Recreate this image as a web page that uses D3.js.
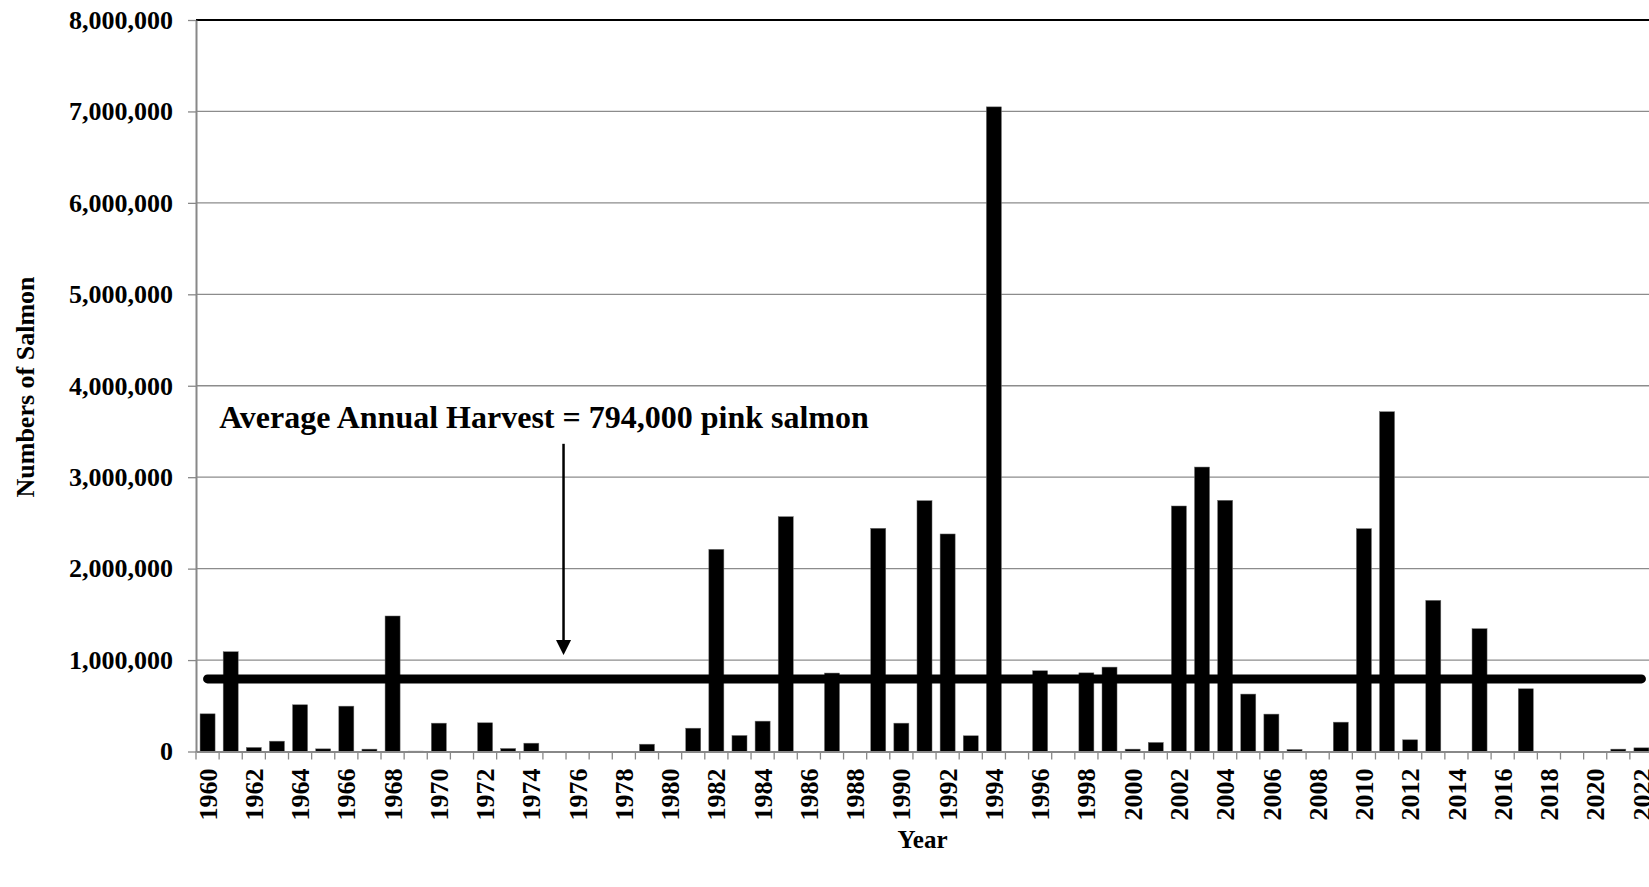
<!DOCTYPE html>
<html>
<head>
<meta charset="utf-8">
<script src="https://cdn.jsdelivr.net/npm/d3@7"></script>
<style>
	body { margin: 0; background: #fff; }
	text { font-family: "Liberation Serif", "Times New Roman", serif; font-weight: bold; fill: #000; }
</style>
</head>
<body>
<div id="plot"></div>
<script>
const margin = { top: 20, right: -4, bottom: 135.5, left: 196 },
	width = 1649 - margin.left - margin.right,
	height = 887 - margin.top - margin.bottom;

// harvest by year
const years = d3.range(1960, 2023).map(String);
const harvest = [
	412000, 1091000, 44000, 113000, 511000, 29000, 496000, 26000, 1482000, 4000,
	310000, 0, 314000, 33000, 91000, 0, 0, 0, 0, 80000,
	0, 255000, 2211000, 175000, 332000, 2568000, 0, 858000, 0, 2441000,
	310000, 2743000, 2379000, 172000, 7050000, 0, 883000, 0, 860000, 923000,
	26000, 99000, 2685000, 3111000, 2747000, 628000, 409000, 22000, 0, 321000,
	2437000, 3716000, 128000, 1653000, 0, 1343000, 0, 686000, 0, 0,
	0, 26000, 40000
];
const labelYears = years.filter((d, i) => i % 2 === 0);
const yTicks = [0, 1000000, 2000000, 3000000, 4000000, 5000000, 6000000, 7000000, 8000000];
const average = 794000;
const averageLabel = "Average Annual Harvest = 794,000 pink salmon";

const data = years.map((y, i) => ({ year: y, value: harvest[i] }));

const svg = d3
	.select("#plot")
	.append("svg")
	.attr("width", 1649)
	.attr("height", 887)
	.append("g")
	.attr("transform", `translate(${margin.left},${margin.top})`);

const x = d3.scaleBand().domain(years).range([0, width]);
const y = d3.scaleLinear().domain([0, 8000000]).range([height, 0]);
const barW = x.bandwidth() * 0.65;

// gridlines
svg
	.append("g")
	.selectAll("line")
	.data(yTicks.slice(1, -1))
	.join("line")
	.attr("x1", 0)
	.attr("x2", width)
	.attr("y1", (d) => y(d))
	.attr("y2", (d) => y(d))
	.attr("stroke", "#8c8c8c")
	.attr("stroke-width", 1.3);

// top border of plot area
svg
	.append("line")
	.attr("x1", 0)
	.attr("x2", width)
	.attr("y1", y(8000000))
	.attr("y2", y(8000000))
	.attr("stroke", "#000")
	.attr("stroke-width", 1.8);

// bars
svg
	.append("g")
	.selectAll("rect")
	.data(data.filter((d) => d.value > 0))
	.join("rect")
	.attr("x", (d) => x(d.year) + (x.bandwidth() - barW) / 2)
	.attr("y", (d) => y(d.value))
	.attr("width", barW)
	.attr("height", (d) => height - y(d.value))
	.attr("fill", "#000")
	.attr("stroke", "#6e6e6e")
	.attr("stroke-width", 0.5);

// y axis
const yAxis = svg
	.append("g")
	.call(
		d3.axisLeft(y)
			.tickValues(yTicks)
			.tickSize(8)
			.tickPadding(15)
			.tickFormat(d3.format(","))
			.tickSizeOuter(0)
	);
yAxis.select(".domain").attr("stroke", "#888").attr("stroke-width", 2);
yAxis.selectAll(".tick line").attr("stroke", "#888").attr("stroke-width", 1.3);
yAxis.selectAll("text").style("font-size", "26px").style("font-family", null);

// x axis
const xAxis = svg
	.append("g")
	.attr("transform", `translate(0, ${height})`)
	.call(d3.axisBottom(x).tickValues(labelYears).tickSize(0).tickSizeOuter(0));
xAxis.select(".domain").attr("stroke", "#888").attr("stroke-width", 2);
xAxis
	.selectAll("text")
	.attr("transform", "rotate(-90)")
	.attr("x", -17)
	.attr("y", 0)
	.attr("dy", "0.35em")
	.style("text-anchor", "end")
	.style("font-size", "26px")
	.style("font-family", null);

// tick marks between categories
svg
	.append("g")
	.selectAll("line")
	.data(years.concat(["end"]))
	.join("line")
	.attr("x1", (d, i) => i * x.step())
	.attr("x2", (d, i) => i * x.step())
	.attr("y1", height)
	.attr("y2", height + 8)
	.attr("stroke", "#888")
	.attr("stroke-width", 1.3);

// average line
svg
	.append("line")
	.attr("x1", x(years[0]) + x.bandwidth() / 2)
	.attr("x2", x(years[years.length - 1]) + x.bandwidth() / 2)
	.attr("y1", y(average))
	.attr("y2", y(average))
	.attr("stroke", "#000")
	.attr("stroke-width", 9)
	.attr("stroke-linecap", "round");

// annotation with arrow
svg
	.append("text")
	.attr("x", x("1961"))
	.attr("y", y(3540000))
	.style("font-size", "32px")
	.text(averageLabel);

const arrowX = x("1976") - 2.5;
const tipY = y(1055000);
svg
	.append("line")
	.attr("x1", arrowX)
	.attr("x2", arrowX)
	.attr("y1", y(3365000))
	.attr("y2", tipY - 12)
	.attr("stroke", "#000")
	.attr("stroke-width", 2.5);
svg
	.append("path")
	.attr("d", `M${arrowX - 7.5},${tipY - 15}L${arrowX + 7.5},${tipY - 15}L${arrowX},${tipY}Z`)
	.attr("fill", "#000");

// axis titles
svg
	.append("text")
	.attr("text-anchor", "middle")
	.attr("x", width / 2 - 2)
	.attr("y", height + 96.5)
	.style("font-size", "25px")
	.text("Year");

svg
	.append("text")
	.attr("text-anchor", "middle")
	.attr("transform", `translate(${34 - margin.left}, ${387 - margin.top}) rotate(-90)`)
	.style("font-size", "26px")
	.text("Numbers of Salmon");
</script>
</body>
</html>
